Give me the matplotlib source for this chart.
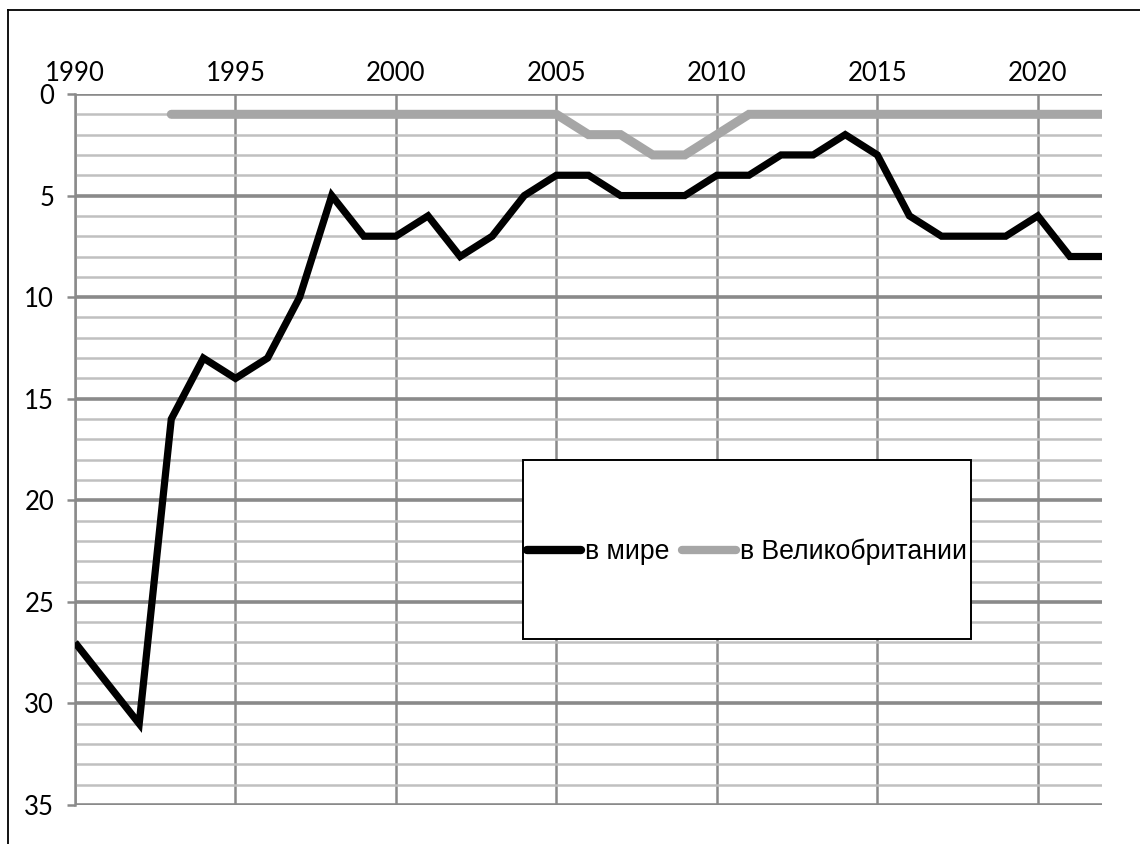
import matplotlib
matplotlib.use("Agg")
import matplotlib.pyplot as plt
from matplotlib.patches import Rectangle
from matplotlib.lines import Line2D
from matplotlib.ticker import MultipleLocator

# место в рейтинге по годам
years = [1990, 1991, 1992, 1993, 1994, 1995, 1996, 1997, 1998, 1999, 2000,
         2001, 2002, 2003, 2004, 2005, 2006, 2007, 2008, 2009, 2010, 2011,
         2012, 2013, 2014, 2015, 2016, 2017, 2018, 2019, 2020, 2021, 2022]
world = [27, 29, 31, 16, 13, 14, 13, 10, 5, 7, 7,
         6, 8, 7, 5, 4, 4, 5, 5, 5, 4, 4,
         3, 3, 2, 3, 6, 7, 7, 7, 6, 8, 8]

uk_years = [1993, 1994, 1995, 1996, 1997, 1998, 1999, 2000, 2001, 2002,
            2003, 2004, 2005, 2006, 2007, 2008, 2009, 2010, 2011, 2012,
            2013, 2014, 2015, 2016, 2017, 2018, 2019, 2020, 2021, 2022]
uk = [1, 1, 1, 1, 1, 1, 1, 1, 1, 1,
      1, 1, 1, 2, 2, 3, 3, 2, 1, 1,
      1, 1, 1, 1, 1, 1, 1, 1, 1, 1]

labels = ["в мире", "в Великобритании"]

W, H = 1140, 844
fig = plt.figure(figsize=(W / 100, H / 100), dpi=100)
ax = fig.add_axes([75 / W, 1 - 805 / H, (1102 - 75) / W, (805 - 94) / H])

ax.plot(years, world, color="black", lw=5.2, solid_joinstyle="miter",
        solid_capstyle="butt", label=labels[0], zorder=3)
ax.plot(uk_years, uk, color="#a6a6a6", lw=6.5, solid_joinstyle="miter",
        solid_capstyle="round", label=labels[1], zorder=3)

ax.set_xlim(1990, 2022)
ax.set_ylim(35, 0)

ax.xaxis.set_major_locator(MultipleLocator(5))
ax.yaxis.set_major_locator(MultipleLocator(5))
ax.yaxis.set_minor_locator(MultipleLocator(1))
ax.xaxis.tick_top()

ax.set_axisbelow(True)
ax.grid(which="minor", axis="y", color="#c0c0c0", lw=1.8)
ax.grid(which="major", axis="y", color="#8a8a8a", lw=2.6)
ax.grid(which="major", axis="x", color="#8a8a8a", lw=1.8)

for s in ("top", "right", "bottom"):
    ax.spines[s].set_visible(False)
ax.spines["left"].set_color("#8a8a8a")
ax.spines["left"].set_linewidth(1.8)

tick_font = "Lato"
ax.tick_params(axis="y", which="major", length=6, width=1.8, color="#8a8a8a",
               pad=9, labelsize=18.5)
ax.tick_params(axis="y", which="minor", length=0)
ax.tick_params(axis="x", which="major", length=0, pad=6, labelsize=18.5)
for lab in ax.get_xticklabels() + ax.get_yticklabels():
    lab.set_fontfamily(tick_font)

# рамка легенды
x0, y0, x1, y1 = 523, 460, 971, 639
box = Rectangle((x0 / W, 1 - y1 / H), (x1 - x0) / W, (y1 - y0) / H,
                transform=fig.transFigure, facecolor="white",
                edgecolor="black", lw=1.4, zorder=4)
fig.add_artist(box)
leg = fig.legend(loc="center", bbox_to_anchor=((x0 + x1) / 2 / W, 1 - 552 / H),
                 ncol=2, frameon=False, handlelength=2.0, handletextpad=0.15,
                 columnspacing=0.5, borderpad=0,
                 prop={"family": "Liberation Sans", "size": 19.2})
leg.set_zorder(5)
for h in leg.get_lines():
    h.set_solid_capstyle("round")
    h.set_linewidth(6)

# внешняя рамка
fig.add_artist(Line2D([8 / W, 1], [1 - 10 / H, 1 - 10 / H],
                      transform=fig.transFigure, color="black", lw=1.3))
fig.add_artist(Line2D([8 / W, 8 / W], [0, 1 - 10 / H],
                      transform=fig.transFigure, color="black", lw=1.3))

fig.savefig("out.png", dpi=100, facecolor="white")
